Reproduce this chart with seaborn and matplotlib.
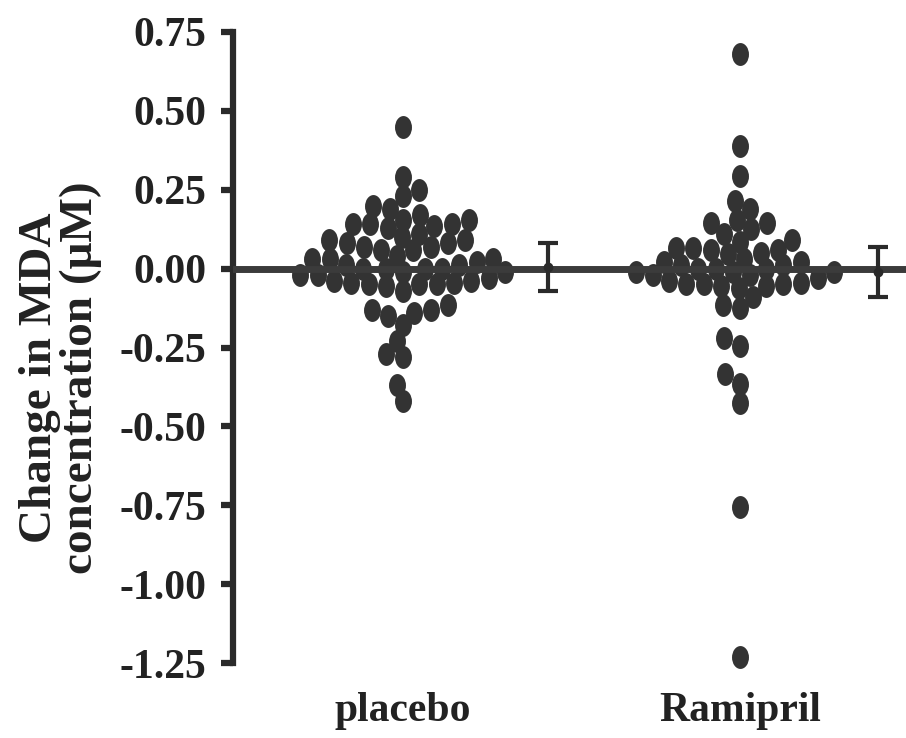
import numpy as np
import pandas as pd
import matplotlib
matplotlib.use("Agg")
import matplotlib.pyplot as plt
import seaborn as sns
from matplotlib.path import Path

# ---------------- data ----------------
groups = ["placebo", "Ramipril"]

placebo = [0.45, 0.29, 0.25, 0.23, 0.20, 0.19, 0.17, 0.155, 0.155, 0.14,
           0.14, 0.14, 0.136, 0.13, 0.11, 0.10, 0.09, 0.09, 0.08, 0.08,
           0.07, 0.07, 0.06, 0.06, 0.04, 0.03, 0.03, 0.03,
           0.02, 0.01, 0.01, 0.0, 0.0, 0.0, 0.0, -0.01, -0.01, -0.02,
           -0.02, -0.03,
           -0.04, -0.04, -0.045, -0.045, -0.05, -0.05, -0.05, -0.055,
           -0.07,
           -0.115, -0.13, -0.13, -0.14, -0.15, -0.18, -0.23, -0.27, -0.28,
           -0.37, -0.42]

ramipril = [0.68, 0.39, 0.295, 0.215, 0.19, 0.155, 0.145, 0.145, 0.125,
            0.11, 0.09, 0.085, 0.065, 0.065, 0.06, 0.06, 0.05, 0.045,
            0.03, 0.02, 0.02, 0.01, 0.01, 0.0, 0.0, 0.0, -0.01, -0.01,
            -0.01, -0.02, -0.02, -0.03,
            -0.04, -0.045, -0.05, -0.05, -0.05, -0.055, -0.055, -0.06,
            -0.09, -0.115, -0.125, -0.22, -0.245, -0.335, -0.365, -0.425,
            -0.757, -1.23]

group_means = [0.006, -0.01]
group_errs = [0.076, 0.08]

yticks = [0.75, 0.50, 0.25, 0.00, -0.25, -0.50, -0.75, -1.00, -1.25]
ylabel = "Change in MDA\nconcentration (\u03bcM)"

# ---------------- style ----------------
sns.set_theme(style="white")
plt.rcParams["font.family"] = ["Liberation Serif", "DejaVu Serif"]
plt.rcParams["font.weight"] = "bold"
plt.rcParams["axes.unicode_minus"] = False

ink = "#2a2a2a"
dot_color = "#333333"

fig = plt.figure(figsize=(9.06, 7.38), dpi=100)
ax = fig.add_axes([233 / 906, 75 / 738, 673 / 906, 631 / 738])

df = pd.DataFrame({
    "group": ["placebo"] * len(placebo) + ["Ramipril"] * len(ramipril),
    "value": placebo + ramipril,
})

circ = Path.unit_circle()
ellipse = Path(circ.vertices * np.array([0.74, 1.0]), circ.codes)

# swarm layout computed with a compact footprint (overlapping dots as in
# the original), then the dots are drawn at full size
sns.swarmplot(data=df, x="group", y="value", order=groups, color=dot_color,
              marker=ellipse, size=12, linewidth=0, ax=ax, zorder=3,
              warn_thresh=1.0)

ax.set_xlim(-0.504, 1.493)
ax.set_ylim(-1.25, 0.75)
fig.canvas.draw()
for coll in ax.collections:
    if "draw" in coll.__dict__:
        del coll.__dict__["draw"]
    coll.set_sizes([16.5 ** 2])
    coll.set_clip_on(False)

# zero line
ax.axhline(0, color="#3b3b3b", lw=5, zorder=4)

# mean +/- error bars beside each group
err_offset = np.array([0.43, 0.41])
ax.errorbar(np.arange(len(groups)) + err_offset, group_means, yerr=group_errs,
            fmt="o", ms=6, color=ink, elinewidth=3, capsize=7, capthick=3,
            zorder=5)

ax.set_xlim(-0.504, 1.493)
ax.set_ylim(-1.25, 0.75)
ax.set_yticks(yticks)
ax.set_yticklabels([f"{t:.2f}" for t in yticks])
ax.set_xticks(range(len(groups)))
ax.set_xticklabels(groups)
ax.set_xlabel("")

for s in ["top", "right", "bottom"]:
    ax.spines[s].set_visible(False)
ax.spines["left"].set_linewidth(4.5)
ax.spines["left"].set_color(ink)
ax.spines["left"].set_capstyle("projecting")

ax.tick_params(axis="y", direction="out", length=9, width=4.5, color=ink,
               pad=10, labelsize=30, labelcolor="#222222", left=True)
ax.tick_params(axis="x", length=0, pad=21, labelsize=30, labelcolor="#222222")

ax.set_ylabel(ylabel, fontsize=34, fontweight="bold", linespacing=0.95,
              color="#222222", va="center")
ax.yaxis.set_label_coords(-0.256, 0.452)

fig.savefig("out.png", dpi=100, facecolor="white")
